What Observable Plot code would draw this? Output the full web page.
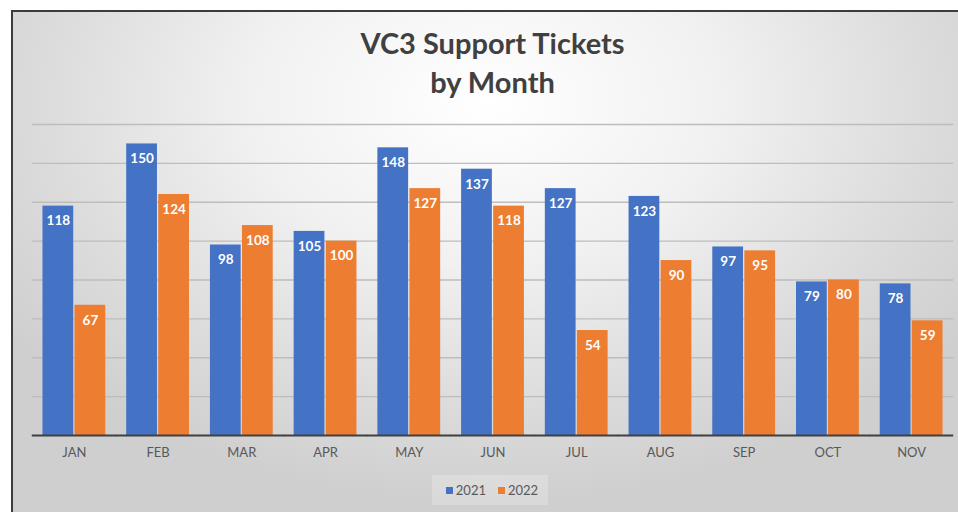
<!DOCTYPE html>
<html>
<head>
<meta charset="utf-8">
<script src="https://cdn.jsdelivr.net/npm/d3@7"></script>
<script src="https://cdn.jsdelivr.net/npm/@observablehq/plot@0.6"></script>
<style>
  html, body { margin: 0; padding: 0; background: #ffffff; }
  #frame {
    position: absolute; left: 11px; top: 10px; width: 947px; height: 502px;
    box-sizing: border-box;
    border-left: 2px solid #3c3c3c; border-top: 2px solid #3c3c3c;
    background: radial-gradient(ellipse 62% 80% at 50% 18%, #ffffff 0%, #f1f1f1 40%, #dcdcdc 75%, #cfcfcf 100%);
    font-family: Lato, "Open Sans", sans-serif;
    overflow: hidden;
  }
  #title {
    height: 100px; box-sizing: border-box; padding-top: 11px; padding-left: 14px;
    text-align: center; font-size: 29px; line-height: 39px; font-weight: bold; color: #404040;
  }
  #chart svg { display: block; }
  #legendWrap { display: flex; justify-content: center; margin-top: 10px; padding-left: 9px; }
  #legend {
    display: flex; align-items: center; gap: 12px; height: 30px; padding: 0 10px 0 14px;
    background: rgba(255,255,255,0.22); font-size: 13px; color: #595959;
  }
  .item { display: flex; align-items: center; gap: 3px; }
  .sw { width: 7px; height: 7px; display: inline-block; }
</style>
</head>
<body>
<div id="frame">
  <div id="title">VC3 Support Tickets<br>by Month</div>
  <div id="chart"></div>
  <div id="legendWrap"><div id="legend"></div></div>
</div>
<script>
const months = ["JAN", "FEB", "MAR", "APR", "MAY", "JUN", "JUL", "AUG", "SEP", "OCT", "NOV"];
const years = ["2021", "2022"];
const tickets2021 = [118, 150, 98, 105, 148, 137, 127, 123, 97, 79, 78];
const tickets2022 = [67, 124, 108, 100, 127, 118, 54, 90, 95, 80, 59];
const gridTicks = [20, 40, 60, 80, 100, 120, 140, 160];
const colors = ["#4472C4", "#ED7D31"];

const data = months.flatMap((m, i) => [
  {month: m, year: years[0], value: tickets2021[i]},
  {month: m, year: years[1], value: tickets2022[i]}
]);

const chart = Plot.plot({
  width: 945,
  height: 353,
  marginTop: 12,
  marginBottom: 30,
  marginLeft: 19,
  marginRight: 5,
  style: {background: "transparent", fontFamily: "Lato, sans-serif", fontSize: "13px", color: "#595959", overflow: "visible"},
  fx: {domain: months, paddingInner: 0.25, paddingOuter: 0.125, round: false, label: null, tickSize: 0, tickPadding: 12, axis: "bottom"},
  x: {domain: years, axis: null, paddingInner: 0.04, paddingOuter: 0, round: false},
  y: {domain: [0, 160], axis: null},
  color: {domain: years, range: colors},
  marks: [
    Plot.ruleY(gridTicks, {stroke: "#bdbdbd", strokeWidth: 1.3, insetLeft: -10.7, insetRight: -10.7}),
    Plot.barY(data, {fx: "month", x: "year", y: "value", fill: "year"}),
    Plot.text(data, {fx: "month", x: "year", y: "value", text: d => String(d.value), dy: 15, fill: "white", fontWeight: "bold", fontSize: 13.5}),
    Plot.ruleY([0], {stroke: "#404040", strokeWidth: 2, insetLeft: -10.7, insetRight: -10.7})
  ]
});
document.getElementById("chart").appendChild(chart);

const legend = document.getElementById("legend");
years.forEach((y, i) => {
  const it = document.createElement("div");
  it.className = "item";
  it.innerHTML = `<span class="sw" style="background:${colors[i]}"></span><span>${y}</span>`;
  legend.appendChild(it);
});
</script>
</body>
</html>
